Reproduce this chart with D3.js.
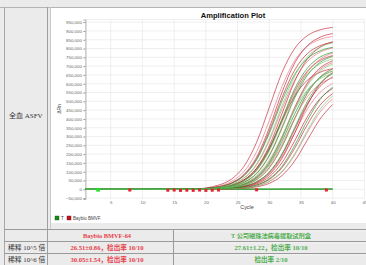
<!DOCTYPE html>
<html>
<head>
<meta charset="utf-8">
<script src="https://cdn.jsdelivr.net/npm/d3@7"></script>
<style>
  html, body { margin: 0; padding: 0; background: #ebebeb; }
  svg { display: block; }
</style>
</head>
<body>
<svg id="chart" width="366" height="265"></svg>
<script>
// cycles at which the curve values (in thousands of ΔRn) were read
const cycles = [1, 18, 22, 24, 26, 28, 30, 32, 34, 36, 38, 40];

// Baybio BMVF-64 (10^5 and 10^6 dilutions)
const baybio = [
  [3, 2, 24, 57, 130, 267, 465, 663, 800, 873, 906, 920],
  [2, 1, 18, 44, 101, 214, 390, 584, 731, 813, 852, 868],
  [1, 2, 14, 34, 79, 173, 330, 520, 677, 771, 816, 836],
  [4, 2, 15, 36, 84, 183, 349, 551, 717, 816, 864, 885],
  [2, 1, 11, 26, 62, 139, 275, 456, 621, 726, 779, 803],
  [1, 0, 8, 20, 48, 109, 224, 390, 556, 671, 732, 760],
  [3, 1, 9, 22, 53, 120, 247, 430, 613, 740, 807, 838],
  [2, 0, 7, 16, 40, 92, 194, 355, 531, 665, 739, 774],
  [1, 1, 5, 12, 30, 71, 155, 295, 465, 605, 689, 730],
  [2, 1, 9, 22, 53, 119, 235, 390, 530, 620, 665, 686],
  [1, 0, 5, 12, 30, 70, 153, 291, 459, 597, 680, 720],
  [2, 1, 4, 10, 23, 55, 122, 242, 401, 545, 637, 684],
  [1, 0, 3, 7, 17, 42, 95, 195, 340, 485, 585, 638],
  [0, 1, 3, 7, 16, 39, 89, 184, 320, 456, 551, 601],
  [2, 0, 2, 5, 13, 31, 71, 151, 275, 412, 515, 573],
  [1, 0, 2, 4, 10, 24, 56, 122, 233, 367, 478, 544],
  [0, 1, 1, 3, 8, 19, 44, 98, 195, 323, 439, 514],
  [1, 0, 1, 2, 6, 14, 34, 78, 161, 280, 399, 482],
  [2, 1, 2, 6, 15, 36, 83, 175, 319, 478, 598, 665],
  [1, 1, 4, 11, 26, 62, 134, 256, 404, 526, 598, 634],
];

// T kit, positives
const tKit = [
  [1, 1, 13, 33, 77, 167, 318, 502, 653, 743, 787, 807],
  [2, 0, 11, 27, 65, 144, 286, 473, 643, 753, 808, 832],
  [0, 1, 8, 21, 49, 112, 230, 400, 570, 688, 751, 779],
  [1, 0, 8, 20, 47, 106, 218, 380, 542, 654, 713, 740],
  [2, 1, 7, 16, 39, 89, 190, 346, 518, 648, 721, 755],
  [1, 0, 5, 12, 29, 69, 151, 287, 453, 589, 671, 711],
  [0, 1, 5, 11, 28, 65, 143, 272, 428, 557, 635, 672],
  [1, 0, 4, 10, 23, 55, 122, 242, 401, 545, 637, 684],
  [2, 1, 3, 7, 18, 43, 98, 201, 350, 499, 602, 657],
  [1, 0, 6, 14, 34, 78, 165, 302, 452, 565, 628, 658],
  [0, 1, 2, 4, 10, 25, 60, 130, 249, 391, 510, 580],
  [1, 0, 1, 3, 8, 19, 46, 102, 202, 334, 454, 531],
];

// T kit, negatives (flat)
const tKitNeg = [
  [1, 0, 1, 1, 0, 1, 1, 1, 2, 1, 1, 2],
  [2, 1, 0, 1, 1, 0, 1, 2, 1, 1, 2, 1],
  [0, 1, 1, 0, 1, 1, 0, 1, 1, 2, 1, 1],
  [1, 1, 0, 1, 1, 1, 1, 0, 1, 1, 1, 2],
];

// small square markers sitting on the baseline
const redMarkCycles = [8, 14, 15, 16, 17, 18, 19, 20, 21, 22, 28, 39];
const redMarkValues = [-4, -5, -4, -6, -5, -6, -4, -6, -5, -4, -3, -4];
const greenMarkCycles = [3];
const greenMarkValues = [-3];

const yTicks = d3.range(-50, 951, 50);
const xTicks = [5, 10, 15, 20, 25, 30, 35, 40, 45];

const tableHead = ["Baybio BMVF-64", "T 公司磁珠法病毒提取试剂盒"];
const rowLabels = ["稀释 10^5 倍", "稀释 10^6 倍"];
const baybioCells = ["26.51±0.86，检出率 10/10", "30.05±1.54，检出率 10/10"];
const tKitCells = ["27.61±1.22，检出率 10/10", "检出率 2/10"];

const svg = d3.select("#chart");
const W = 366, H = 265;

// frame
svg.append("rect").attr("width", W).attr("height", H).attr("fill", "#ebebeb");
svg.append("rect").attr("x", 51).attr("y", 8).attr("width", W - 51).attr("height", 215).attr("fill", "#fff");

const frame = svg.append("g").attr("fill", "none");
frame.append("line").attr("x1", 0).attr("x2", W).attr("y1", 7.5).attr("y2", 7.5).attr("stroke", "#b4b4b4");
frame.append("line").attr("x1", 4.5).attr("x2", 4.5).attr("y1", 7).attr("y2", H).attr("stroke", "#a8a8a8");
frame.append("line").attr("x1", 47.5).attr("x2", 47.5).attr("y1", 7).attr("y2", H).attr("stroke", "#a0a0a0");
frame.append("line").attr("x1", 50.5).attr("x2", 50.5).attr("y1", 7).attr("y2", 229).attr("stroke", "#c8c8c8");

svg.append("text")
  .attr("x", 9).attr("y", 118)
  .attr("font-family", "'Liberation Serif', 'Noto Sans CJK SC', serif")
  .attr("font-size", 7).attr("fill", "#333")
  .text("全血 ASFV");

// plot
const x = d3.scaleLinear().domain([1, 45]).range([85.4, 364.4]);
const y = d3.scaleLinear().domain([-55, 965]).range([199, 19.5]);

const grid = svg.append("g").attr("stroke", "#e4e4e4").attr("stroke-width", 0.6);
grid.selectAll(".h").data(yTicks).join("line")
  .attr("x1", x.range()[0]).attr("x2", x.range()[1])
  .attr("y1", d => y(d)).attr("y2", d => y(d));
grid.selectAll(".v").data(xTicks).join("line")
  .attr("x1", d => x(d)).attr("x2", d => x(d))
  .attr("y1", y.range()[1]).attr("y2", y.range()[0]);
grid.append("line")
  .attr("x1", x.range()[0]).attr("x2", x.range()[1])
  .attr("y1", y.range()[1]).attr("y2", y.range()[1]);

const fmt = d3.format(",");
svg.append("g")
  .attr("transform", `translate(${x.range()[0]},0)`)
  .call(d3.axisLeft(y).tickValues(yTicks).tickSize(2).tickPadding(1.5).tickFormat(d => fmt(d * 1000)))
  .attr("font-family", "'Liberation Sans', Arial, sans-serif")
  .attr("font-size", 4.4)
  .call(g => g.select(".domain").attr("stroke", "#999").attr("stroke-width", 0.8))
  .call(g => g.selectAll(".tick line").attr("stroke", "#999"))
  .call(g => g.selectAll(".tick text").attr("fill", "#666"));

svg.append("g")
  .attr("transform", `translate(0,${y.range()[0]})`)
  .call(d3.axisBottom(x).tickValues(xTicks).tickSize(0).tickPadding(2))
  .attr("font-family", "'Liberation Sans', Arial, sans-serif")
  .attr("font-size", 4.4)
  .call(g => g.select(".domain").remove())
  .call(g => g.selectAll(".tick text").attr("fill", "#666"));

const line = d3.line()
  .x((d, i) => x(cycles[i]))
  .y(d => y(d))
  .curve(d3.curveMonotoneX);

const curves = svg.append("g").attr("fill", "none").attr("stroke-width", 0.75);

curves.selectAll(".neg").data(tKitNeg).join("path")
  .attr("d", line).attr("stroke", "#3da33d");

curves.selectAll(".bay").data(baybio).join("path")
  .attr("d", line)
  .attr("stroke", (d, i) => (i % 3 === 1 ? "#e0707a" : "#c21a2c"))
  .attr("stroke-opacity", 0.85);

curves.selectAll(".tk").data(tKit).join("path")
  .attr("d", line)
  .attr("stroke", (d, i) => (i % 2 === 0 ? "#1f8f1f" : "#6cc46c"))
  .attr("stroke-opacity", 0.85);

svg.append("g").selectAll("rect").data(redMarkCycles).join("rect")
  .attr("x", d => x(d) - 1.5)
  .attr("y", (d, i) => y(redMarkValues[i]) - 1.5)
  .attr("width", 3).attr("height", 3)
  .attr("fill", "#e8202a");

svg.append("g").selectAll("rect").data(greenMarkCycles).join("rect")
  .attr("x", d => x(d) - 1.8)
  .attr("y", (d, i) => y(greenMarkValues[i]) - 1.8)
  .attr("width", 3.6).attr("height", 3.6)
  .attr("fill", "#22e022");

// titles
svg.append("text")
  .attr("x", 233).attr("y", 17.5)
  .attr("text-anchor", "middle")
  .attr("font-family", "'Liberation Sans', Arial, sans-serif")
  .attr("font-weight", "bold").attr("font-size", 7.6)
  .attr("fill", "#111")
  .text("Amplification Plot");

svg.append("text")
  .attr("transform", "translate(61,109) rotate(-90)")
  .attr("text-anchor", "middle")
  .attr("font-family", "'Liberation Sans', Arial, sans-serif")
  .attr("font-size", 5).attr("fill", "#444")
  .text("ΔRn");

svg.append("text")
  .attr("x", 247).attr("y", 209)
  .attr("text-anchor", "middle")
  .attr("font-family", "'Liberation Sans', Arial, sans-serif")
  .attr("font-size", 5.4).attr("fill", "#444")
  .text("Cycle");

// legend
const legend = svg.append("g")
  .attr("font-family", "'Liberation Sans', Arial, sans-serif")
  .attr("font-size", 4.5).attr("fill", "#444");
legend.append("rect").attr("x", 55).attr("y", 216).attr("width", 4).attr("height", 4)
  .attr("fill", "#1a8a1a").attr("stroke", "#0d5a0d").attr("stroke-width", 0.4);
legend.append("text").attr("x", 61).attr("y", 219.8).text("T");
legend.append("rect").attr("x", 67).attr("y", 216).attr("width", 4).attr("height", 4)
  .attr("fill", "#c0141e").attr("stroke", "#7a0a10").attr("stroke-width", 0.4);
legend.append("text").attr("x", 73).attr("y", 219.8).text("Baybio BMVF");

// table
const rowLines = [229.5, 241.5, 253.5];
const table = svg.append("g");
table.selectAll("line.h").data(rowLines).join("line")
  .attr("x1", 4).attr("x2", W)
  .attr("y1", d => d).attr("y2", d => d)
  .attr("stroke", "#9a9a9a").attr("stroke-width", 1.1);
table.selectAll("line.hl").data(rowLines).join("line")
  .attr("x1", 174).attr("x2", W)
  .attr("y1", d => d + 1.4).attr("y2", d => d + 1.4)
  .attr("stroke", "#fafafa").attr("stroke-width", 0.6);
table.append("line").attr("x1", 173.5).attr("x2", 173.5).attr("y1", 229).attr("y2", H)
  .attr("stroke", "#9a9a9a");

const serif = "'Liberation Serif', 'Noto Sans CJK SC', serif";
const rowY = [238, 250, 262];

table.append("text")
  .attr("x", 107).attr("y", rowY[0]).attr("text-anchor", "middle")
  .attr("font-family", serif).attr("font-weight", "bold").attr("font-size", 6.4)
  .attr("fill", "#e8404a").text(tableHead[0]);
table.append("text")
  .attr("x", 271).attr("y", rowY[0]).attr("text-anchor", "middle")
  .attr("font-family", serif).attr("font-weight", "bold").attr("font-size", 6.2)
  .attr("fill", "#4fae4f").text(tableHead[1]);

rowLabels.forEach((t, i) => {
  table.append("text")
    .attr("x", 8).attr("y", rowY[i + 1])
    .attr("font-family", serif).attr("font-size", 6.8)
    .attr("fill", "#333").text(t);
  table.append("text")
    .attr("x", 107).attr("y", rowY[i + 1]).attr("text-anchor", "middle")
    .attr("font-family", serif).attr("font-weight", "bold").attr("font-size", 6.6)
    .attr("fill", "#e8404a").text(baybioCells[i]);
  table.append("text")
    .attr("x", 271).attr("y", rowY[i + 1]).attr("text-anchor", "middle")
    .attr("font-family", serif).attr("font-weight", "bold").attr("font-size", 6.6)
    .attr("fill", "#4fae4f").text(tKitCells[i]);
});
</script>
</body>
</html>
